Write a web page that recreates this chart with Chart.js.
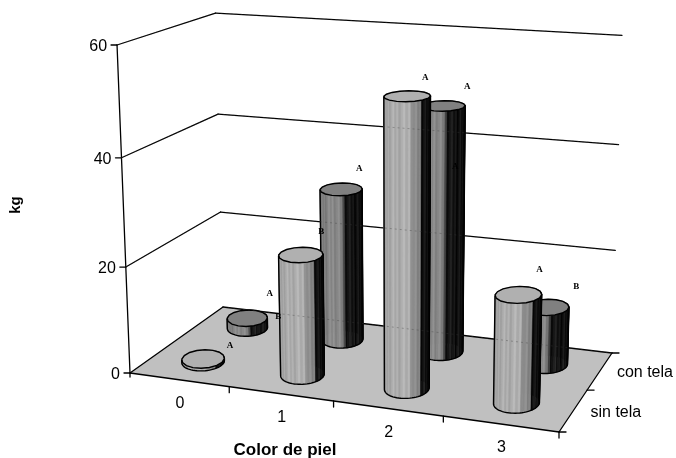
<!DOCTYPE html>
<html>
<head>
<meta charset="utf-8">
<style>
  html, body { margin: 0; padding: 0; background: #fff; }
  canvas { display: block; }
</style>
<script src="https://cdn.jsdelivr.net/npm/chart.js@4/dist/chart.umd.min.js"></script>
</head>
<body>
<canvas id="kgChart" width="676" height="458"></canvas>
<script>
const categories = ['0', '1', '2', '3'];
const depthLabels = ['sin tela', 'con tela'];
const sinTela = [0.5, 22.5, 52.5, 19.5];
const conTela = [2, 29.7, 47, 11];
const valueTicks = [0, 20, 40, 60];
const sinTelaLetters = ['A', 'A', 'A', 'A'];
const conTelaLetters = ['B', 'A', 'A', 'B'];
// second letter on some con tela columns: category index, letter
const conTelaExtra = [[1, 'B'], [2, 'A']];

// Floor corners on the canvas, front-left going round
const floorCorners = [[130, 373], [559, 432], [612, 353], [223, 307]];
const floorMap = squareToQuad(floorCorners);
// verticals converge on this point far below the floor
const vanish = [398, 7153];

function squareToQuad(q) {
    const [[x0, y0], [x1, y1], [x2, y2], [x3, y3]] = q;
    const dx1 = x1 - x2, dx2 = x3 - x2, sx = x0 - x1 + x2 - x3;
    const dy1 = y1 - y2, dy2 = y3 - y2, sy = y0 - y1 + y2 - y3;
    const den = dx1 * dy2 - dx2 * dy1;
    const g = (sx * dy2 - dx2 * sy) / den;
    const h = (dx1 * sy - sx * dy1) / den;
    return (u, v) => {
        const w = g * u + h * v + 1;
        return [
            ((x1 - x0 + g * x1) * u + (x3 - x0 + h * x3) * v + x0) / w,
            ((y1 - y0 + g * y1) * u + (y3 - y0 + h * y3) * v + y0) / w
        ];
    };
}

// u along the categories, v into the depth, h up the value axis (all 0..1)
function project(u, v, h) {
    const a = floorMap(u, v);
    const wallHeight = 328 + 0.516 * (a[1] - 373);
    const rise = wallHeight * h / (1 + 0.048 * (1 - h));
    return [a[0] + (a[0] - vanish[0]) * rise / (vanish[1] - a[1]), a[1] - rise];
}

function fractions(chart, catIndex, depthIndex, value) {
    const { x, y, z } = chart.scales;
    return {
        u: (x.getPixelForValue(catIndex) - x.left) / x.width,
        v: (z.getPixelForValue(depthIndex) - z.left) / z.width,
        h: value === undefined ? 0 : (y.bottom - y.getPixelForValue(value)) / y.height
    };
}

// side colour by position across the column, left edge to right edge
const sideStops = {
    light: [[0, 150], [0.12, 170], [0.55, 176], [0.62, 140], [0.78, 128], [0.8, 20], [1, 12]],
    dark: [[0, 120], [0.3, 140], [0.5, 130], [0.58, 24], [1, 14]]
};

function sideShade(stops, t, i) {
    let g = stops[stops.length - 1][1];
    for (let k = 1; k < stops.length; k++) {
        if (t <= stops[k][0]) {
            const [t0, g0] = stops[k - 1];
            const [t1, g1] = stops[k];
            g = g0 + (g1 - g0) * (t - t0) / (t1 - t0);
            break;
        }
    }
    const streak = ((i * 7) % 5 - 2) * (g < 40 ? 7 : 6);
    const c = Math.round(Math.max(0, Math.min(255, g + streak)));
    return `rgb(${c},${c},${c})`;
}

function drawCylinder(ctx, c, hTop, look) {
    const N = 64, ru = 0.046, rv = 0.115;
    // shear and lift keep the ellipse level although the floor axes run slanted
    const shear = 0.21 - 0.11 * c.u, lift = 0.036;
    const base = [], top = [];
    for (let i = 0; i < N; i++) {
        const a = i / N * Math.PI * 2;
        const u = c.u + ru * Math.cos(a) - shear * rv * Math.sin(a);
        const v = c.v + rv * Math.sin(a) + lift * Math.cos(a);
        base.push(project(u, v, 0));
        top.push(project(u, v, hTop));
    }
    let iL = 0, iR = 0;
    base.forEach((p, i) => {
        if (p[0] < base[iL][0]) iL = i;
        if (p[0] > base[iR][0]) iR = i;
    });
    const xMin = base[iL][0], xMax = base[iR][0];

    // paint the side from the far strips to the near ones
    const order = base.map((p, i) => i).sort((a, b) => base[a][1] - base[b][1]);
    order.forEach((i) => {
        const j = (i + 1) % N;
        const col = sideShade(sideStops[look.side], ((base[i][0] + base[j][0]) / 2 - xMin) / (xMax - xMin), i);
        ctx.fillStyle = col;
        ctx.strokeStyle = col;
        ctx.lineWidth = 0.6;
        ctx.beginPath();
        ctx.moveTo(base[i][0], base[i][1]);
        ctx.lineTo(base[j][0], base[j][1]);
        ctx.lineTo(top[j][0], top[j][1]);
        ctx.lineTo(top[i][0], top[i][1]);
        ctx.closePath();
        ctx.fill();
        ctx.stroke();
    });

    ctx.strokeStyle = '#000';
    ctx.lineWidth = 1.4;
    ctx.beginPath();
    ctx.moveTo(top[iL][0], top[iL][1]);
    ctx.lineTo(base[iL][0], base[iL][1]);
    for (let i = iL; i !== iR; i = (i + 1) % N) {
        const p = base[(i + 1) % N];
        ctx.lineTo(p[0], p[1]);
    }
    ctx.lineTo(top[iR][0], top[iR][1]);
    ctx.stroke();

    // the lid is a coarser polygon
    ctx.fillStyle = look.lid;
    ctx.beginPath();
    for (let i = 0; i < N; i += 4) {
        if (i === 0) ctx.moveTo(top[i][0], top[i][1]);
        else ctx.lineTo(top[i][0], top[i][1]);
    }
    ctx.closePath();
    ctx.fill();
    ctx.stroke();
}

class CylinderController extends Chart.BarController {
    draw() {
        const chart = this.chart;
        const ds = this.getDataset();
        const depthIndex = depthLabels.indexOf(ds.label);
        ds.data.forEach((value, i) => {
            const c = fractions(chart, i, depthIndex, value);
            drawCylinder(chart.ctx, c, c.h, ds.look);
        });
    }
}
CylinderController.id = 'cylinder';

function line(ctx, a, b) {
    ctx.beginPath();
    ctx.moveTo(a[0], a[1]);
    ctx.lineTo(b[0], b[1]);
    ctx.stroke();
}

function wallLines(ctx, chart) {
    const y = chart.scales.y;
    valueTicks.forEach((t) => {
        const h = (y.bottom - y.getPixelForValue(t)) / y.height;
        const a = project(0, 0, h), b = project(0, 1, h), c = project(1, 1, h);
        if (t > 0) line(ctx, a, b);
        line(ctx, b, c);
    });
}

const boxPlugin = {
    id: 'box',
    beforeDatasetsDraw(chart) {
        const ctx = chart.ctx;
        const y = chart.scales.y;
        ctx.save();

        ctx.fillStyle = '#c0c0c0';
        ctx.beginPath();
        [[0, 0], [1, 0], [1, 1], [0, 1]].forEach(([u, v], i) => {
            const p = project(u, v, 0);
            if (i === 0) ctx.moveTo(p[0], p[1]);
            else ctx.lineTo(p[0], p[1]);
        });
        ctx.closePath();
        ctx.fill();

        ctx.strokeStyle = '#000';
        ctx.lineWidth = 1.3;
        ctx.lineCap = 'round';
        wallLines(ctx, chart);
        line(ctx, project(0, 0, 0), project(1, 0, 0));
        line(ctx, project(0, 0, 0), project(0, 1, 0));
        line(ctx, project(1, 0, 0), project(1, 1, 0));
        line(ctx, project(0, 0, 0), project(0, 0, 1));

        ctx.fillStyle = '#000';
        ctx.font = '16px "Liberation Sans", Arial, sans-serif';

        // value axis
        ctx.textAlign = 'right';
        ctx.textBaseline = 'middle';
        valueTicks.forEach((t) => {
            const h = (y.bottom - y.getPixelForValue(t)) / y.height;
            const p = project(0, 0, h);
            line(ctx, [p[0] - 6, p[1]], p);
            ctx.fillText(String(t), p[0] - 10, p[1] + 2);
        });

        // category axis
        ctx.textAlign = 'center';
        categories.forEach((name, i) => {
            const c = fractions(chart, i, 0);
            const p = project(c.u, 0, 0);
            ctx.fillText(name, p[0] + 1, p[1] + 24);
            const q = project((i + 1) / categories.length, 0, 0);
            line(ctx, q, [q[0], q[1] + 6]);
        });
        const first = project(0, 0, 0);
        line(ctx, first, [first[0], first[1] + 4]);

        // depth axis
        ctx.textAlign = 'left';
        depthLabels.forEach((name, i) => {
            const c = fractions(chart, 0, i);
            const p = project(1, c.v, 0);
            ctx.fillText(name, p[0] + 17, p[1] + 2);
        });
        [0, 0.5, 1].forEach((v) => {
            const p = project(1, v, 0);
            line(ctx, p, [p[0] + 7, p[1]]);
        });

        ctx.font = 'bold 17px "Liberation Sans", Arial, sans-serif';
        ctx.textAlign = 'center';
        ctx.fillText('Color de piel', 285, 450);
        ctx.font = 'bold 15px "Liberation Sans", Arial, sans-serif';
        ctx.translate(16, 205);
        ctx.rotate(-Math.PI / 2);
        ctx.fillText('kg', 0, 0);
        ctx.restore();
    },
    afterDatasetsDraw(chart) {
        const ctx = chart.ctx;
        ctx.save();

        // wall lines stay faintly visible across the columns
        ctx.strokeStyle = 'rgba(60,60,60,0.35)';
        ctx.lineWidth = 1;
        ctx.setLineDash([2, 3]);
        wallLines(ctx, chart);
        ctx.setLineDash([]);

        ctx.fillStyle = '#000';
        ctx.font = 'bold 9px "Liberation Serif", "Times New Roman", serif';
        ctx.textAlign = 'center';
        ctx.textBaseline = 'middle';
        const letterAt = (name, depthIndex, i, value, off) => {
            const c = fractions(chart, i, depthIndex, value);
            const p = project(c.u, c.v, c.h);
            ctx.fillText(name, p[0] + off[0], p[1] + off[1]);
        };
        const sinOffsets = [[27, -13], [-31, 39], [18, -19], [21, -25]];
        const conOffsets = [[31, -1], [18, -21], [24, -19], [29, -21]];
        const extraOffsets = [[-20, 42], [12, 61]];
        sinTelaLetters.forEach((l, i) => letterAt(l, 0, i, sinTela[i], sinOffsets[i]));
        conTelaLetters.forEach((l, i) => letterAt(l, 1, i, conTela[i], conOffsets[i]));
        conTelaExtra.forEach(([i, l], k) => letterAt(l, 1, i, conTela[i], extraOffsets[k]));
        ctx.restore();
    }
};

Chart.register(CylinderController);

new Chart(document.getElementById('kgChart').getContext('2d'), {
    type: 'cylinder',
    data: {
        labels: categories,
        datasets: [
            { label: 'sin tela', data: sinTela, look: { side: 'light', lid: '#b0b0b0' } },
            { label: 'con tela', data: conTela, look: { side: 'dark', lid: '#808080' } }
        ]
    },
    options: {
        responsive: false,
        animation: false,
        layout: { padding: 0 },
        plugins: { legend: { display: false }, tooltip: { enabled: false } },
        scales: {
            x: { display: false },
            y: { display: false, min: 0, max: 60 },
            z: { type: 'category', axis: 'x', labels: depthLabels, offset: true, display: false }
        }
    },
    plugins: [boxPlugin]
});
</script>
</body>
</html>
